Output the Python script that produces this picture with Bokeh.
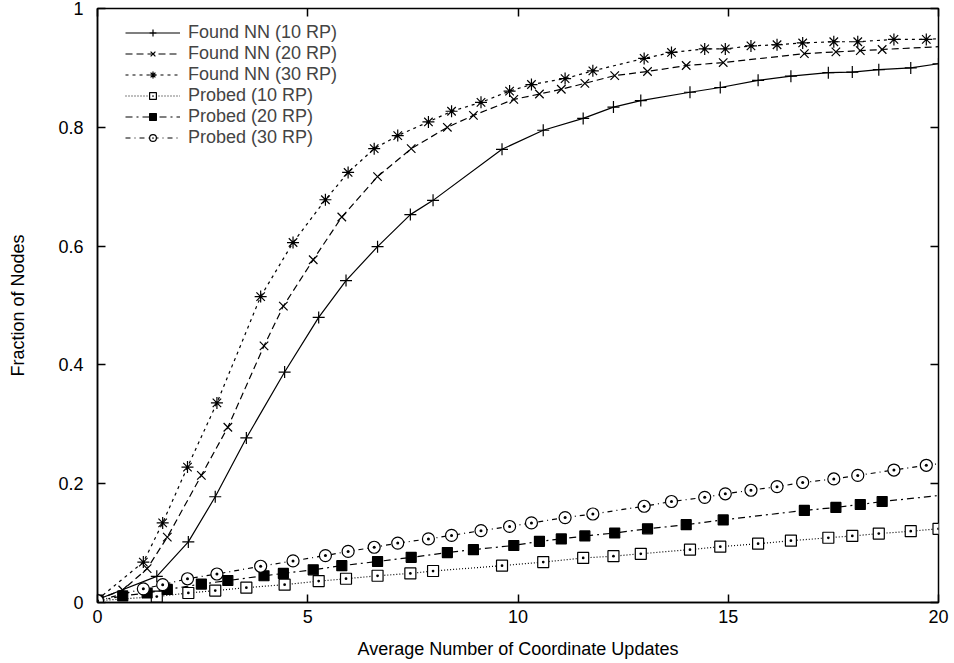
from bokeh.plotting import figure
from bokeh.models import LinearAxis, FixedTicker, Legend
from bokeh.embed import file_html
from bokeh.resources import INLINE

# ---- data ----
x10 = [0, 1.41, 2.16, 2.80, 3.54, 4.45, 5.26, 5.91, 6.66, 7.44, 7.98, 9.62, 10.60, 11.55,
       12.27, 12.92, 14.09, 14.81, 15.71, 16.49, 17.38, 17.95, 18.58, 19.34, 20.0]
found10 = [0.005, 0.044, 0.102, 0.178, 0.277, 0.388, 0.480, 0.542, 0.599, 0.653, 0.677, 0.763,
           0.795, 0.815, 0.834, 0.845, 0.859, 0.867, 0.879, 0.886, 0.892, 0.893, 0.897, 0.900, 0.907]
probed10 = [0.003, 0.010, 0.016, 0.020, 0.025, 0.030, 0.036, 0.040, 0.045, 0.049, 0.053, 0.062,
            0.068, 0.075, 0.078, 0.082, 0.089, 0.094, 0.099, 0.104, 0.109, 0.112, 0.116, 0.120, 0.124]

x20 = [0, 0.60, 1.18, 1.66, 2.47, 3.10, 3.96, 4.42, 5.13, 5.81, 6.66, 7.46, 8.32, 8.94, 9.90,
       10.51, 11.03, 11.59, 12.30, 13.08, 14.0, 14.88, 16.81, 17.56, 18.14, 18.66, 20.4]
found20 = [0.005, 0.021, 0.057, 0.110, 0.214, 0.295, 0.432, 0.499, 0.577, 0.649, 0.717, 0.764,
           0.800, 0.820, 0.847, 0.856, 0.864, 0.874, 0.887, 0.894, 0.904, 0.909, 0.924, 0.927,
           0.929, 0.931, 0.937]
probed20 = [0.003, 0.011, 0.016, 0.022, 0.031, 0.037, 0.045, 0.049, 0.055, 0.062, 0.069, 0.076,
            0.084, 0.089, 0.096, 0.103, 0.107, 0.112, 0.117, 0.124, 0.131, 0.139, 0.155, 0.160,
            0.165, 0.170, 0.183]

x30 = [0, 1.09, 1.55, 2.14, 2.84, 3.88, 4.65, 5.42, 5.96, 6.58, 7.14, 7.87, 8.42, 9.12, 9.80,
       10.32, 11.12, 11.78, 13.00, 13.65, 14.44, 14.93, 15.54, 16.16, 16.77, 17.51, 18.08,
       18.94, 19.71, 20.4]
found30 = [0.005, 0.068, 0.134, 0.228, 0.336, 0.515, 0.606, 0.678, 0.724, 0.764, 0.786, 0.809,
           0.827, 0.842, 0.861, 0.872, 0.882, 0.895, 0.916, 0.926, 0.932, 0.932, 0.937, 0.939,
           0.942, 0.944, 0.944, 0.948, 0.948, 0.951]
probed30 = [0.003, 0.023, 0.030, 0.040, 0.048, 0.061, 0.070, 0.079, 0.086, 0.093, 0.100, 0.107,
            0.113, 0.121, 0.128, 0.134, 0.143, 0.149, 0.162, 0.170, 0.177, 0.183, 0.189, 0.195,
            0.202, 0.208, 0.214, 0.223, 0.231, 0.237]

x_ticks = [0, 5, 10, 15, 20]
y_ticks = [0, 0.2, 0.4, 0.6, 0.8, 1]
y_tick_labels = ["0", "0.2", "0.4", "0.6", "0.8", "1"]

FONT = "Liberation Sans"

p = figure(width=954, height=663, output_backend="svg", toolbar_location=None,
           x_range=(0, 20), y_range=(0, 1),
           min_border_left=97, min_border_right=16, min_border_top=8, min_border_bottom=61)
p.xgrid.visible = False
p.ygrid.visible = False
p.outline_line_color = "black"
p.outline_line_width = 1.5
p.background_fill_color = "white"
p.border_fill_color = "white"

series = [
    ("Found NN (10 RP)", x10, found10, "solid", "cross", "black", 12),
    ("Found NN (20 RP)", x20, found20, "7 4", "x", "black", 12),
    ("Found NN (30 RP)", x30, found30, "3 4", "asterisk", "black", 12),
    ("Probed (10 RP)", x10, probed10, "1 2", "square_dot", None, 11),
    ("Probed (20 RP)", x20, probed20, "7 4 2 4", "square", "black", 10),
    ("Probed (30 RP)", x30, probed30, "5 4 1 4", "circle_dot", None, 12),
]

items = []
for label, xs, ys, dash, marker, fill, size in series:
    r1 = p.line(xs, ys, line_color="black", line_width=1.2, line_dash=dash)
    r2 = p.scatter(xs, ys, marker=marker, size=size, line_color="black", line_width=1.2,
                   fill_color=fill if fill else "white")
    items.append((label, [r1, r2]))

legend = Legend(items=items, location=(28, 454))
legend.label_text_font = FONT
legend.label_text_font_size = "18px"
legend.label_height = 19
legend.glyph_width = 55
legend.glyph_height = 17
legend.label_standoff = 8
legend.spacing = 0
legend.padding = 4
legend.margin = 0
legend.border_line_color = None
legend.background_fill_alpha = 0
p.add_layout(legend)

for ax in (p.xaxis[0], p.yaxis[0]):
    ax.major_tick_in = 8
    ax.major_tick_out = 0
    ax.minor_tick_line_color = None
    ax.axis_line_color = "black"
    ax.axis_line_width = 1.5
    ax.major_tick_line_width = 1.5
    ax.major_label_text_font = FONT
    ax.major_label_text_font_size = "18px"
    ax.major_label_text_color = "black"
    ax.axis_label_text_font = FONT
    ax.axis_label_text_font_size = "18px"
    ax.axis_label_text_font_style = "normal"
    ax.axis_label_text_color = "black"

p.xaxis[0].ticker = FixedTicker(ticks=x_ticks)
p.yaxis[0].ticker = FixedTicker(ticks=y_ticks)
p.yaxis[0].major_label_overrides = {t: s for t, s in zip(y_ticks, y_tick_labels)}
p.xaxis[0].axis_label = "Average Number of Coordinate Updates"
p.yaxis[0].axis_label = "Fraction of Nodes"
p.xaxis[0].major_label_standoff = 7
p.yaxis[0].major_label_standoff = 14
p.xaxis[0].axis_label_standoff = 13
p.yaxis[0].axis_label_standoff = 27

# mirrored ticks on top and right, as in the gnuplot original (no labels)
for loc, ticks in (("right", y_ticks), ("above", x_ticks)):
    ax = LinearAxis(ticker=FixedTicker(ticks=ticks))
    ax.major_tick_in = 8
    ax.major_tick_out = 0
    ax.major_tick_line_width = 1.5
    ax.minor_tick_line_color = None
    ax.axis_line_color = None
    ax.major_label_text_color = None
    ax.major_label_text_font_size = "1px"
    ax.major_label_standoff = 0
    p.add_layout(ax, loc)

open("out.html", "w").write(file_html(p, INLINE))
